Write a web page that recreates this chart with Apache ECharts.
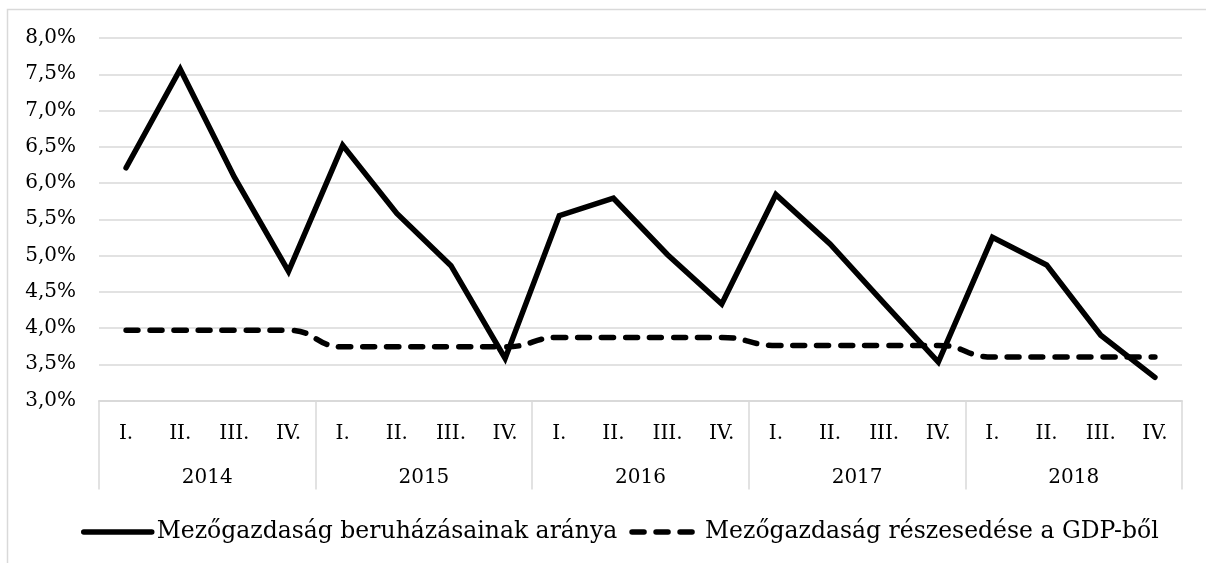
<!DOCTYPE html>
<html>
<head>
<meta charset="utf-8">
<script src="https://cdn.jsdelivr.net/npm/echarts@6/dist/echarts.min.js"></script>
<style>
html,body{margin:0;padding:0;background:#fff;}
#chart{width:1206px;height:563px;}
</style>
</head>
<body>
<div id="chart"></div>
<script>
const quarters = ['I.','II.','III.','IV.','I.','II.','III.','IV.','I.','II.','III.','IV.','I.','II.','III.','IV.','I.','II.','III.','IV.'];
const years = ['2014','2015','2016','2017','2018'];
const seriesNames = ['Mezőgazdaság beruházásainak aránya','Mezőgazdaság részesedése a GDP-ből'];
const investmentShare = [6.21,7.57,6.08,4.78, 6.52,5.58,4.86,3.58, 5.55,5.79,5.01,4.33, 5.84,5.16,4.34,3.53, 5.25,4.87,3.90,3.32];
const gdpShare = [3.97,3.97,3.97,3.97, 3.74,3.74,3.74,3.74, 3.87,3.87,3.87,3.87, 3.76,3.76,3.76,3.76, 3.60,3.60,3.60,3.60];

const FONT = 'DejaVu Serif';
const GRID_C = '#d9d9d9';
const chart = echarts.init(document.getElementById('chart'), null, {renderer:'canvas'});
chart.setOption({
  animation:false,
  backgroundColor:'#fff',
  textStyle:{fontFamily:FONT},
  graphic:[{
    type:'rect', silent:true,
    shape:{x:7.5,y:9.5,width:1220,height:580},
    style:{fill:'none',stroke:GRID_C,lineWidth:1.5}
  }],
  grid:{left:99,right:24,top:38,height:362.5},
  legend:{
    left:76, top:513,
    itemWidth:68, itemHeight:28, itemGap:12,
    itemStyle:{opacity:0},
    lineStyle:{width:5.5},
    textStyle:{fontFamily:FONT,fontSize:23.5,color:'#000',lineHeight:28},
    data:seriesNames
  },
  xAxis:[{
    type:'category', data:quarters, boundaryGap:true,
    axisLine:{show:true,lineStyle:{color:GRID_C,width:1.5}},
    axisTick:{show:false},
    axisLabel:{interval:0,margin:23,fontFamily:FONT,fontSize:20,color:'#000',lineHeight:20}
  },{
    type:'category', data:years, boundaryGap:true, position:'bottom',
    axisLine:{show:true,lineStyle:{color:GRID_C,width:1.5}},
    axisTick:{show:true,interval:0,length:89,lineStyle:{color:GRID_C,width:1.5}},
    axisLabel:{interval:0,margin:67,fontFamily:FONT,fontSize:20,color:'#000',lineHeight:20}
  }],
  yAxis:{
    type:'value', min:3, max:8, interval:0.5,
    axisLine:{show:false}, axisTick:{show:false},
    splitLine:{lineStyle:{color:GRID_C,width:1.5}},
    axisLabel:{margin:23,fontFamily:FONT,fontSize:20,color:'#000',
      formatter:v=>v.toFixed(1).replace('.',',')+'%'}
  },
  series:[{
    name:seriesNames[0], type:'line', data:investmentShare, xAxisIndex:0,
    symbol:'none', smooth:false,
    lineStyle:{color:'#000',width:5.5,cap:'round',join:'miter'},
    itemStyle:{color:'#000'}
  },{
    name:seriesNames[1], type:'line', data:gdpShare, xAxisIndex:0,
    symbol:'none', smooth:0.5,
    lineStyle:{color:'#000',width:5.5,type:[12,12],cap:'round'},
    itemStyle:{color:'#000'}
  }]
});
</script>
</body>
</html>
